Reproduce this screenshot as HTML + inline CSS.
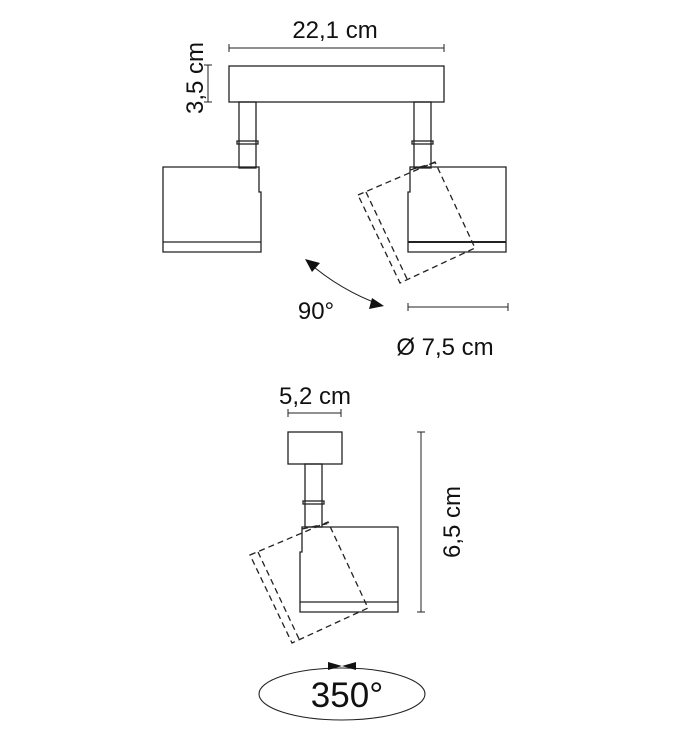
<!DOCTYPE html>
<html><head><style>body{margin:0;background:#fff}svg{display:block}text{font-family:"Liberation Sans",sans-serif;fill:#111}</style></head><body>
<svg width="684" height="745" viewBox="0 0 684 745" xmlns="http://www.w3.org/2000/svg">
<g stroke="#222" stroke-width="1.3" fill="none">
<line x1="229" y1="48" x2="444" y2="48" stroke-width="1"/>
<line x1="229" y1="44" x2="229" y2="52" stroke-width="1"/><line x1="444" y1="44" x2="444" y2="52" stroke-width="1"/>
<line x1="208" y1="65" x2="208" y2="102" stroke-width="1"/>
<line x1="204" y1="65" x2="212" y2="65" stroke-width="1"/><line x1="204" y1="102" x2="212" y2="102" stroke-width="1"/>
<rect x="229" y="66" width="215" height="36"/>
<rect x="239" y="102" width="17" height="66"/>
<rect x="237" y="141" width="21" height="3"/>
<path d="M163 167 H259 V192 H261 V252 H163 Z"/>
<line x1="163" y1="242" x2="261" y2="242"/>
<rect x="414" y="102" width="17" height="66"/>
<rect x="412" y="141" width="21" height="3"/>
<path d="M410 167 H506 V252 H408 V192 H410 Z"/>
<line x1="408" y1="242" x2="506" y2="242" stroke-width="2"/>
<g stroke-dasharray="6,4">
<path d="M358 195 L435 162 L475 248 L400 283 Z"/>
<line x1="366" y1="192" x2="408" y2="281"/>
<line x1="410" y1="170" x2="437" y2="162"/>
</g>
<path d="M308 262 Q340 290 381 305" stroke-width="1.1"/>
<line x1="408" y1="307" x2="508" y2="307" stroke-width="1"/>
<line x1="408" y1="303" x2="408" y2="311" stroke-width="1"/><line x1="508" y1="303" x2="508" y2="311" stroke-width="1"/>
<line x1="288" y1="413" x2="341" y2="413" stroke-width="1"/>
<line x1="288" y1="409" x2="288" y2="417" stroke-width="1"/><line x1="341" y1="409" x2="341" y2="417" stroke-width="1"/>
<rect x="288" y="432" width="54" height="32"/>
<rect x="305" y="464" width="17" height="63"/>
<rect x="303" y="501" width="21" height="3"/>
<path d="M302 527 H398 V612 H300 V552 H302 Z"/>
<line x1="300" y1="602" x2="398" y2="602"/>
<line x1="421" y1="432" x2="421" y2="612" stroke-width="1"/>
<line x1="417" y1="432" x2="425" y2="432" stroke-width="1"/><line x1="417" y1="612" x2="425" y2="612" stroke-width="1"/>
<g stroke-dasharray="6,4">
<path d="M250 555 L328 522 L368 608 L292 643 Z"/>
<line x1="258" y1="552" x2="300" y2="641"/>
<line x1="302" y1="529" x2="330" y2="523"/>
</g>
<ellipse cx="342" cy="694" rx="83" ry="26" stroke-width="1.1"/>
</g>
<g fill="#111">
<polygon points="305,259 320,263 312,272"/>
<polygon points="384,306 369,309 372,298"/>
<polygon points="328,662 342,666 328,670"/>
<polygon points="356,662 342,666 356,670"/>
</g>
<text x="335" y="38" font-size="24" text-anchor="middle">22,1 cm</text>
<text transform="translate(203,78) rotate(-90)" font-size="24" text-anchor="middle">3,5 cm</text>
<text x="316" y="319" font-size="24" text-anchor="middle">90°</text>
<text x="445" y="355" font-size="24" text-anchor="middle">Ø 7,5 cm</text>
<text x="315" y="404" font-size="24" text-anchor="middle">5,2 cm</text>
<text transform="translate(460,522) rotate(-90)" font-size="24" text-anchor="middle">6,5 cm</text>
<text x="347" y="707" font-size="35" text-anchor="middle">350°</text>
</svg>
</body></html>
